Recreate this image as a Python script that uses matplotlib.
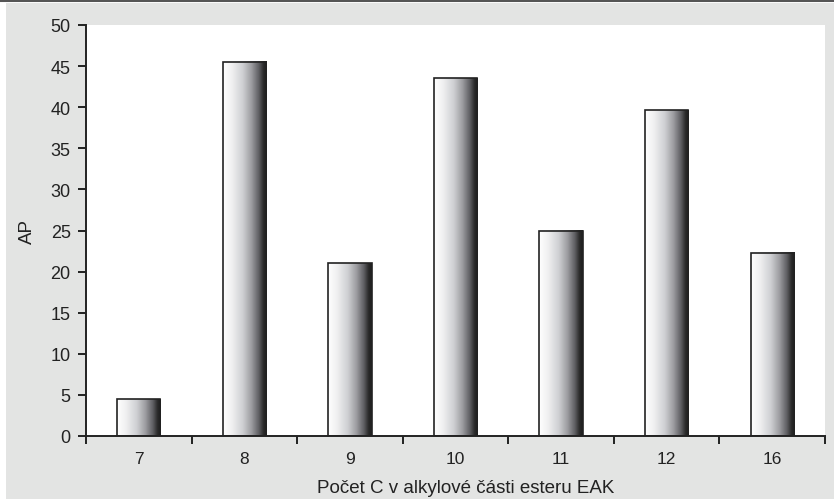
import numpy as np
import matplotlib
matplotlib.use('Agg')
import matplotlib.pyplot as plt
from matplotlib.colors import LinearSegmentedColormap
from matplotlib.patches import Rectangle
from matplotlib.lines import Line2D

plt.rcParams['font.family'] = ['Liberation Sans', 'DejaVu Sans']

categories = ['7', '8', '9', '10', '11', '12', '16']
values = [4.5, 45.5, 21.0, 43.5, 25.0, 39.6, 22.3]
y_ticks = [0, 5, 10, 15, 20, 25, 30, 35, 40, 45, 50]

W, H = 834, 502
fig = plt.figure(figsize=(W / 100, H / 100), dpi=100)
fig.patch.set_facecolor('white')

# grey panel behind the chart and the rule along the top
fig.add_artist(Rectangle((6 / W, 2 / H), 1 - 6 / W, 1 - 6 / H,
                         transform=fig.transFigure, facecolor='#e3e4e3',
                         edgecolor='none', zorder=0))
fig.add_artist(Line2D([0, 1], [1 - 1 / H, 1 - 1 / H], transform=fig.transFigure,
                      color='#555555', lw=2.2, zorder=1))

ax = fig.add_axes([86 / W, (H - 437) / H, (825 - 86) / W, (437 - 26) / H])
ax.set_facecolor('white')

cmap = LinearSegmentedColormap.from_list('bar', [
    (0.0, '#ffffff'), (0.2, '#f0f0f1'), (0.45, '#cfd0d3'),
    (0.65, '#9c9ca0'), (0.82, '#5e5e62'), (0.92, '#2c2c2c'), (1.0, '#1c1c1c')])
grad = np.linspace(0, 1, 256).reshape(1, -1)

n = len(categories)
width = 0.41
for i, v in enumerate(values):
    x0 = i + 0.5 - width / 2
    ax.imshow(grad, cmap=cmap, extent=[x0, x0 + width, 0, v], aspect='auto',
              interpolation='bilinear', zorder=2)
    ax.add_patch(Rectangle((x0, 0), width, v, facecolor='none',
                           edgecolor='#222222', lw=1.2, zorder=3))

ax.set_xlim(0, n)
ax.set_ylim(0, 50)
ax.set_yticks(y_ticks)
ax.set_xticks(np.arange(n + 1))
ax.set_xticklabels([])
ax.set_xticks(np.arange(n) + 0.5, minor=True)
ax.set_xticklabels(categories, minor=True)
ax.tick_params(axis='x', which='major', direction='out', length=6, width=1.2)
ax.tick_params(axis='x', which='minor', length=0, pad=11, labelsize=12.5,
               labelcolor='#222222')
ax.tick_params(axis='y', direction='out', length=6, width=1.2, labelsize=13,
               pad=5, labelcolor='#222222')

for s in ['top', 'right']:
    ax.spines[s].set_visible(False)
for s in ['left', 'bottom']:
    ax.spines[s].set_linewidth(1.4)
    ax.spines[s].set_color('#222222')

ax.set_ylabel('AP', fontsize=13.5, color='#222222')
ax.yaxis.set_label_coords(-0.068, 0.5)
ax.set_xlabel('Počet C v alkylové části esteru EAK', fontsize=13.5,
              color='#222222')
ax.xaxis.set_label_coords(0.514, -0.104)

fig.savefig('out.png', dpi=100)
